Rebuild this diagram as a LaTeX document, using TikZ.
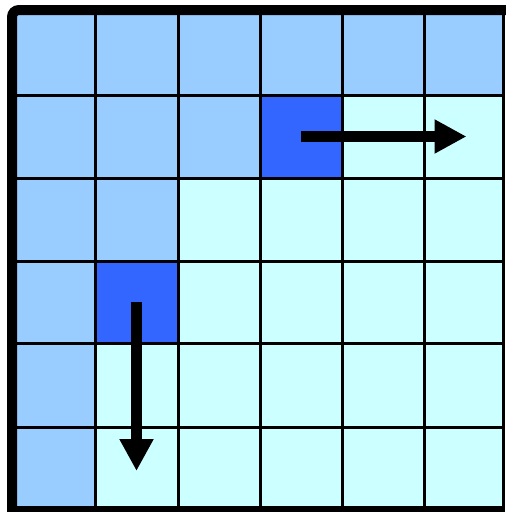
\documentclass[tikz,border=0pt]{standalone}
\usepackage{xcolor}
\usepackage{tikz}
\usetikzlibrary{arrows.meta}
\definecolor{cellL}{HTML}{99CCFF}
\definecolor{cellP}{HTML}{CCFFFF}
\definecolor{cellA}{HTML}{3366FF}
\def\colx{{12,95,178,260,342,424,503}}
\def\rowy{{10,95,178,261,343,427,511}}

\begin{document}
\begin{tikzpicture}[
    x=1pt,y=-1pt,
    cell/.style={draw=black,line width=3pt,rectangle,inner sep=0pt,outer sep=0pt},
    frame/.style={draw=black,line width=10pt},
    move/.style={-{Triangle[length=32pt,width=32pt]},line width=11pt,draw=black}
]
    \useasboundingbox (0,0) rectangle (506,512);
    \foreach \row [count=\r from 0] in {{L,L,L,L,L,L},{L,L,L,A,P,P},{L,L,P,P,P,P},{L,A,P,P,P,P},{L,P,P,P,P,P},{L,P,P,P,P,P}}{
        \foreach \f [count=\c from 0] in \row{
            \pgfmathsetmacro\xa{\colx[\c]}
            \pgfmathsetmacro\xb{\colx[\c+1]}
            \pgfmathsetmacro\ya{\rowy[\r]}
            \pgfmathsetmacro\yb{\rowy[\r+1]}
            \node[cell,fill=cell\f,minimum width=\xb pt-\xa pt,minimum height=\yb pt-\ya pt]
                (c\r\c) at ({(\xa+\xb)/2},{(\ya+\yb)/2}) {};
        }
    }
    \draw[frame] (c55.south east) -- (c50.south west)
        {[rounded corners=7pt] -- (c00.north west)} -- ([xshift=3pt]c05.north east);
    \draw[move] (c13.center) -- ([xshift=3pt]c15.center);
    \draw[move] (c31.center) -- ([yshift=-2pt]c51.center);
\end{tikzpicture}
\end{document}
